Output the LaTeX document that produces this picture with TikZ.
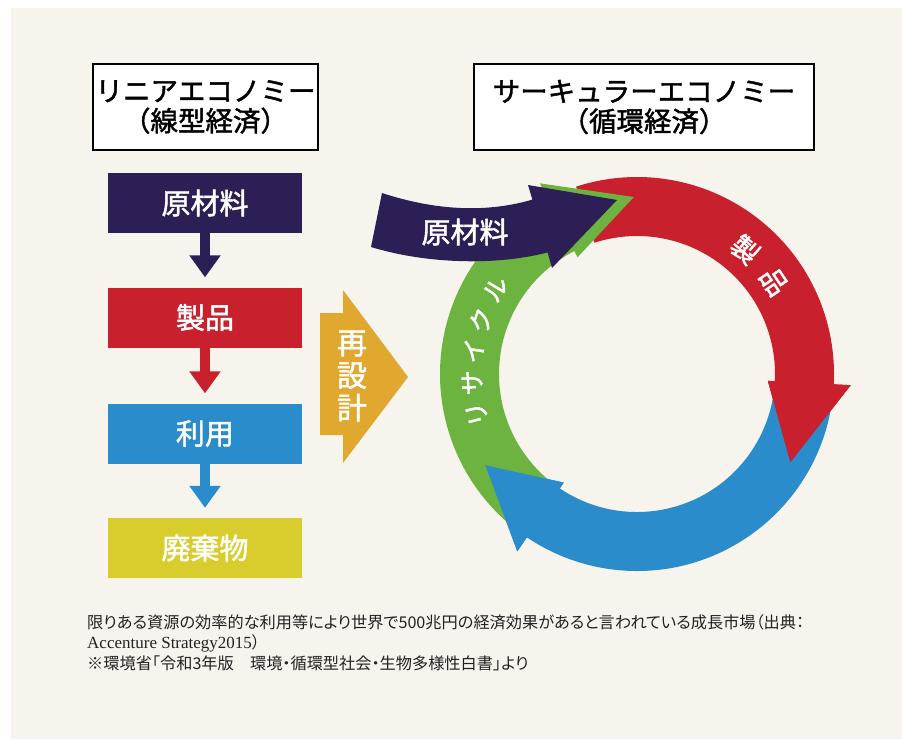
\documentclass[tikz,border=0pt]{standalone}
\usepackage{fontspec}
\setmainfont{Noto Sans CJK JP}
\newfontfamily\jp{Noto Sans CJK JP}
\newfontfamily\jpm{Noto Sans CJK JP}[FakeBold=1.6]
\newfontfamily\jpp{Noto Sans CJK JP}[RawFeature=+palt]
\newfontfamily\lserif{Liberation Serif}
\usetikzlibrary{arrows.meta,calc}
\definecolor{cream}{HTML}{F6F4EC}
\definecolor{cpurple}{HTML}{2D1E55}
\definecolor{cred}{HTML}{C8202C}
\definecolor{cblue}{HTML}{2B8CCB}
\definecolor{cgreen}{HTML}{6DB33F}
\definecolor{cyellow}{HTML}{D9CD2E}
\definecolor{cgold}{HTML}{E0A82E}
\definecolor{captxt}{HTML}{222222}
\newcommand\ringarrow[4]{%
  \fill[#1] ($(C)+(#2:197)$) arc[start angle=#2, end angle=#3, radius=197]
    -- ($(C)+(#3:214)$) -- ($(C)+(#4:177)$) -- ($(C)+(#3:131)$)
    -- ($(C)+(#3:138)$) arc[start angle=#3, end angle=#2, radius=138] -- cycle;}
\newcommand\ringhead[3]{%
  \fill[#1] ($(C)+(#2:214)$) -- ($(C)+(#3:177)$) -- ($(C)+(#2:131)$) -- cycle;}
\begin{document}
\begin{tikzpicture}[x=1pt,y=1pt,
  titlebox/.style={draw=black, line width=1.5pt, fill=white, align=center, inner sep=0pt,
    minimum height=86pt, font=\jpm\fontsize{27.5}{30}\selectfont},
  stepbox/.style={minimum width=194pt, minimum height=60pt, inner sep=0pt, text=white,
    font=\jpm\fontsize{29}{32}\selectfont},
  flow/.style={line width=10pt, -{Triangle[width=30pt,length=22pt]}, shorten >=10pt},
  ringtxt/.style={text=white, inner sep=0pt, font=\jpm\fontsize{25}{27}\selectfont},
  captxtstyle/.style={anchor=west, inner sep=0pt, text=captxt, font=\jpp\fontsize{16.2}{20}\selectfont}]
\useasboundingbox (0,0) rectangle (902,-739);
\fill[white] (0,0) rectangle (902,-739);
\fill[cream] (11,-8) rectangle (902,-739);

% titles
\node[titlebox, minimum width=225pt] (lt) at (205.5,-107) {リニアエコノミー\\（線型経済）};
\node[titlebox, minimum width=340pt] (rt) at (644,-107) {サーキュラーエコノミー\\（循環経済）};

% linear flow
\node[stepbox, fill=cpurple] (b1) at (205,-203) {原材料};
\node[stepbox, fill=cred] (b2) at (205,-317.5) {製品};
\node[stepbox, fill=cblue] (b3) at (205,-433.5) {利用};
\node[stepbox, fill=cyellow] (b4) at (205,-548) {廃棄物};
\draw[flow, draw=cpurple, fill=cpurple] (b1.south) -- (b2.north);
\draw[flow, draw=cred, fill=cred] (b2.south) -- (b3.north);
\draw[flow, draw=cblue, fill=cblue] (b3.south) -- (b4.north);

% redesign arrow
\fill[cgold] (320,-313) -- (343,-313) -- (343,-290) -- (408,-377) -- (343,-463)
  -- (343,-435) -- (320,-435) -- cycle;
\node[text=white, inner sep=0pt, align=center, font=\jpm\fontsize{30}{32.5}\selectfont]
  (rd) at (352,-376) {再\\設\\計};

% circular economy
\coordinate (C) at (637,-374);
\ringarrow{cred}{108}{-3}{-30}
\ringarrow{cblue}{-6}{-124}{-149}
\ringarrow{cgreen}{232}{117}{91}
\ringhead{cred}{-3}{-30}
\ringhead{cblue}{-124}{-149}

% raw material arrow
\fill[cpurple] (382,-193) .. controls (440,-212) and (490,-212) .. (532.4,-199.6)
  -- (528,-185) -- (617,-200) -- (552,-268) -- (547.6,-252.4)
  .. controls (500,-265) and (430,-265) .. (371,-247) -- cycle;
\node[ringtxt, font=\jpm\fontsize{29}{30}\selectfont] (rm) at (465,-232) {原材料};

% ring labels
\node[ringtxt, font=\jpm\fontsize{27}{28}\selectfont, rotate=-41] (s1) at ($(C)+(49:165)$) {製};
\node[ringtxt, font=\jpm\fontsize{27}{28}\selectfont, rotate=-56] (s2) at ($(C)+(34:165)$) {品};
\node[ringtxt, rotate=104] (r1) at ($(C)+(194:165)$) {リ};
\node[ringtxt, rotate=93] (r2) at ($(C)+(183:165)$) {サ};
\node[ringtxt, rotate=82] (r3) at ($(C)+(172:165)$) {イ};
\node[ringtxt, rotate=71] (r4) at ($(C)+(161:165)$) {ク};
\node[ringtxt, rotate=59] (r5) at ($(C)+(149:165)$) {ル};

% caption
\node[captxtstyle] (c1) at (87,-622) {限りある資源の効率的な利用等により世界で500兆円の経済効果があると言われている成長市場（出典：};
\node[captxtstyle] (c2) at (87,-643) {{\lserif\fontsize{17}{20}\selectfont Accenture Strategy2015}）};
\node[captxtstyle] (c3) at (87,-663) {※環境省「令和3年版　環境・循環型社会・生物多様性白書」より};
\end{tikzpicture}
\end{document}
